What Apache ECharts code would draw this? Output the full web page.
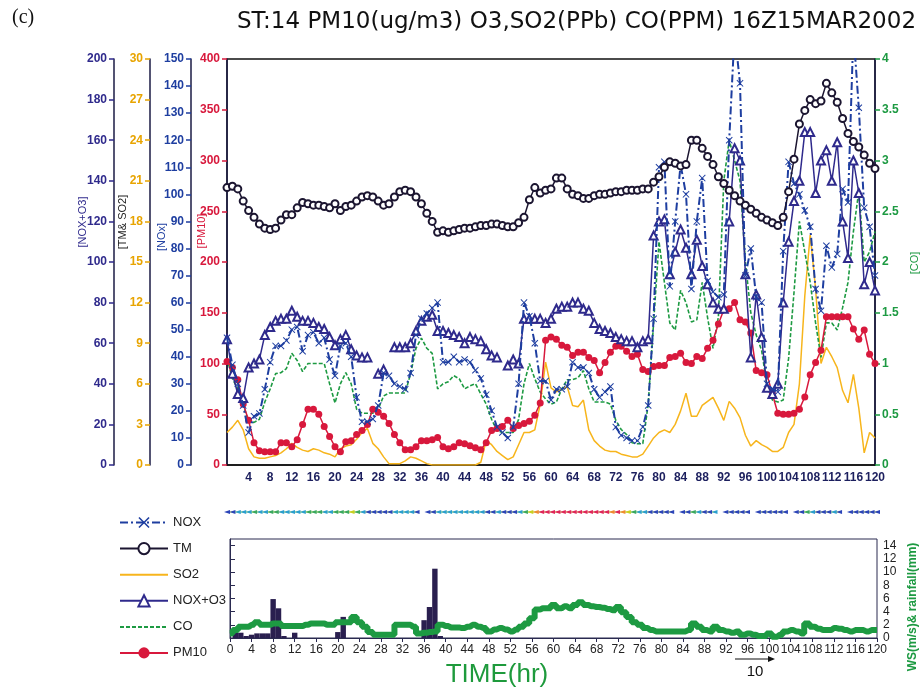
<!DOCTYPE html>
<html>
<head>
<meta charset="utf-8">
<script src="https://cdn.jsdelivr.net/npm/echarts@6/dist/echarts.min.js"></script>
<style>html,body{margin:0;padding:0;background:#fff;}#c{width:923px;height:689px;}</style>
</head>
<body>
<div id="c"></div>
<script>
// ---------------- DATA (hourly, hr 0..120) ----------------
const hours = Array.from({length: 121}, (_, i) => i);
const xTicks = [0,4,8,12,16,20,24,28,32,36,40,44,48,52,56,60,64,68,72,76,80,84,88,92,96,100,104,108,112,116,120];

// TM (deg C, TM&SO2 axis)
const tm = [
 20.5,20.6,20.4,19.5,18.8,18.3,17.8,17.5,17.4,17.5,
 18.1,18.5,18.5,19.0,19.4,19.3,19.2,19.2,19.1,19.0,
 19.3,18.8,19.1,19.2,19.5,19.8,19.9,19.8,19.5,19.2,
 19.3,19.8,20.2,20.3,20.2,19.8,19.3,18.6,18.0,17.2,
 17.3,17.2,17.3,17.4,17.5,17.5,17.6,17.7,17.7,17.8,
 17.8,17.7,17.6,17.6,17.9,18.3,19.6,20.5,20.1,20.3,
 20.4,21.2,21.2,20.4,20.0,19.9,19.7,19.7,19.9,20.0,
 20.0,20.1,20.2,20.2,20.3,20.3,20.3,20.4,20.4,20.9,
 21.3,22.0,22.4,22.3,22.1,22.2,24.0,24.0,23.4,22.8,
 22.2,21.3,20.8,20.3,19.9,19.5,19.2,18.9,18.6,18.3,
 18.1,17.9,17.7,18.3,20.2,22.6,25.2,26.2,27.0,26.7,
 26.9,28.2,27.5,26.8,25.6,24.5,23.9,23.5,22.9,22.3,21.9];

// PM10 (ug/m3)
const pm10 = [
 102,96,84,60,44,22,14,13,13,13,
 22,22,18,25,40,55,55,50,38,28,
 18,13,23,24,30,34,40,55,52,48,
 41,30,22,15,15,18,24,24,25,27,
 18,16,18,22,21,19,17,15,22,34,
 36,38,44,36,39,41,43,49,61,123,
 126,124,118,116,108,111,111,106,103,91,
 101,111,117,117,112,107,109,94,92,97,
 98,98,106,107,110,101,100,107,105,115,
 123,139,153,154,160,143,141,130,93,91,
 89,70,51,50,50,51,55,67,89,101,
 113,146,146,146,146,146,134,124,133,109,100];

// SO2 (ppb, TM&SO2 axis)
const so2 = [
 2.4,2.8,3.3,2.6,1.2,0.6,0.5,0.5,0.6,0.7,
 0.9,1.2,1.6,1.3,1.1,1.0,1.2,1.1,0.9,0.8,
 0.6,1.2,1.4,1.5,1.9,2.4,2.7,1.6,1.2,0.6,
 0.1,0.1,0.1,0.3,0.6,0.5,0.3,0.1,0,0,
 0,0,0,0,0,0,0,0.2,1.8,1.5,
 1.0,0.7,0.4,0.6,1.5,2.4,2.4,2.6,4.5,7.6,
 5.7,5.4,5.6,5.8,4.4,4.3,4.8,2.6,1.8,1.4,
 1.1,1.0,1.0,0.8,0.7,0.6,0.6,0.8,1.4,2.0,
 2.4,2.6,2.4,3.0,4.0,5.3,3.6,3.6,4.4,4.7,
 5.0,4.2,3.3,4.7,4.2,3.5,2.2,1.4,1.8,1.5,
 1.3,1.0,1.0,1.3,2.4,3.0,6.0,12.5,17.0,13.0,
 7.5,8.7,8.0,7.2,5.5,4.6,6.7,4.2,0.9,2.4,2.0];

// CO (ppm, right axis)
const co = [
 1.05,0.85,0.75,0.60,0.42,0.42,0.45,0.62,0.75,0.90,
 0.91,0.95,1.10,1.03,0.92,1.00,1.00,1.00,1.00,0.80,
 0.61,0.80,0.91,0.80,0.55,0.51,0.51,0.51,0.55,0.68,
 0.71,0.71,0.71,0.71,0.90,1.15,1.25,1.15,1.10,0.75,
 0.80,0.82,0.88,0.85,0.75,0.78,0.80,0.70,0.60,0.45,
 0.34,0.32,0.32,0.32,0.45,0.80,1.00,0.85,0.72,0.65,
 0.60,0.62,0.75,0.84,0.84,0.86,0.93,0.75,0.62,0.62,
 0.62,0.60,0.44,0.35,0.30,0.22,0.21,0.21,0.60,1.40,
 2.20,1.80,1.40,1.33,1.72,1.60,1.41,1.43,1.80,1.45,
 1.15,1.46,2.80,3.20,3.00,2.80,2.00,1.50,1.28,1.13,
 0.78,0.64,0.62,0.64,1.05,1.70,2.40,2.10,1.80,1.40,
 1.06,1.40,1.40,1.33,1.55,1.80,2.30,2.70,2.00,2.10,2.30];

// NOX (ppb, NOx axis)
const nox = [
 47,37,30,22,12,18,19,28,38,44,
 44,46,50,51,42,48,49,45,47,39,
 33,44,45,40,25,16,16,17,22,34,
 33,30,29,28,34,48,54,56,58,60,
 38,38,40,38,39,38,35,32,26,20,
 14,12,10,14,30,60,55,45,31,31,
 24,28,28,29,38,36,36,34,28,25,
 27,29,14,11,10,9,9,14,22,54,
 110,112,66,90,111,100,65,90,106,68,
 64,62,63,120,160,141,70,80,62,60,
 30,28,27,79,112,104,100,94,88,65,
 57,81,73,78,102,97,160,132,95,88,70];

// NOX+O3 (ppb, NOX+O3 axis)
const noxo3 = [
 62,45,35,33,48,50,52,64,68,71,
 72,72,76,73,71,71,70,68,67,63,
 59,62,64,57,54,53,53,null,45,47,
 null,58,58,58,60,66,71,73,74,66,
 66,65,64,63,60,63,62,61,57,54,
 53,null,49,52,50,72,72,72,72,70,
 72,77,78,78,80,80,77,76,70,67,
 66,65,63,62,61,61,58,61,62,113,
 120,121,94,105,116,107,94,111,98,89,
 80,77,77,120,156,150,94,53,84,63,
 38,35,40,80,110,130,140,164,164,134,
 150,155,140,159,120,102,150,134,89,100,86];

// Wind speed (m/s) and rainfall (mm), bottom panel
const ws = [
 0.7,1.2,1.7,1.7,2.0,2.4,2.0,2.0,2.2,2.2,
 1.8,1.8,1.8,1.8,2.0,2.2,2.2,2.2,2.0,2.0,
 2.4,2.4,2.4,3.2,2.4,1.7,0.9,0.5,0.5,0.5,
 0.5,2.0,2.0,2.0,1.7,0.7,0.8,0.9,1.0,2.0,
 1.8,1.6,1.6,1.5,1.7,2.0,1.7,1.5,1.0,1.3,
 1.5,1.3,1.0,1.3,1.7,2.2,3.0,4.3,4.5,4.5,
 5.0,4.5,4.8,4.5,5.0,5.4,5.0,4.8,4.7,4.6,
 4.4,4.2,4.7,3.9,3.2,2.4,2.0,1.5,1.2,1.0,
 1.0,1.0,1.0,1.0,1.0,1.2,2.2,1.7,1.2,1.0,
 1.7,1.2,1.0,0.8,1.0,0.5,0.7,0.5,0.3,0.3,
 0.7,0.2,0.5,1.0,1.2,1.0,0.7,2.2,1.7,1.4,
 1.2,1.2,1.5,1.4,1.2,1.0,1.2,1.2,1.0,1.2,1.2];

const rain = [
 0,0.8,0.8,0.3,0.5,0.7,0.7,0.7,5.9,4.5,
 0.3,0,0.8,0,0,0,0,0,0,0,
 0.9,3.2,0,0,0,0,0,0,0,0,
 0,0,0,0,0,0,2.7,4.7,10.5,0.3,
 0,0,0,0,0,0,0,0,0,0,
 0,0,0,0,0,0,0,0,0,0,
 0,0,0,0,0,0,0,0,0,0,
 0,0,0,0,0,0,0,0,0,0,
 0,0,0,0,0,0,0,0,0,0,
 0,0,0,0,0,0,0,0,0,0,
 0,0,0,0,0,0,0,0,0,0,
 0,0,0,0,0,0,0,0,0,0,0];

// hours with no wind barb plotted
const barbGaps = [36, 83, 91, 97, 104, 114];

// ---------------- CHART ----------------
const pairs = arr => arr.map((v, i) => [hours[i], v === null ? '-' : v]);
const F = 'Liberation Sans';
const XMARK = 'path://M1,0L5,4L9,0L10,1L6,5L10,9L9,10L5,6L1,10L0,9L4,5L0,1Z';

const C_NOXO3 = '#2f2a8c', C_TM = '#e8a400', C_NOX = '#1e3ea0', C_PM = '#d8183c', C_CO = '#1d9a42';

function leftAxis(min, max, interval, offset, color) {
  return {
    type: 'value', gridIndex: 0, position: 'left', offset: offset,
    min: min, max: max, interval: interval,
    axisLine: {show: true, lineStyle: {color: '#1b1b44', width: 1.5}},
    axisTick: {show: true, length: 5, lineStyle: {color: color, width: 1.5}},
    axisLabel: {color: color, fontWeight: 'bold', fontSize: 12, fontFamily: F, margin: 7},
    splitLine: {show: false}
  };
}

const chart = echarts.init(document.getElementById('c'), null, {renderer: 'canvas'});
const option = {
  backgroundColor: '#fff',
  animation: false,
  title: {
    text: 'ST:14 PM10(ug/m3) O3,SO2(PPb) CO(PPM) 16Z15MAR2002',
    left: 232, top: 6,
    textStyle: {fontSize: 23, fontWeight: 'normal', fontFamily: 'DejaVu Sans', color: '#111'}
  },
  legend: {
    orient: 'vertical', left: 114, top: 511,
    itemWidth: 48, itemHeight: 14, itemGap: 13,
    data: [
      {name: 'NOX'},
      {name: 'TM'},
      {name: 'SO2', itemStyle: {opacity: 0}},
      {name: 'NOX+O3'},
      {name: 'CO', itemStyle: {opacity: 0}},
      {name: 'PM10'}
    ],
    textStyle: {fontSize: 13, fontFamily: F, color: '#222'}
  },
  grid: [
    {left: 227, right: 48, top: 59, height: 406, show: true, borderColor: '#111', borderWidth: 1.5},
    {left: 230, right: 46, top: 539, height: 99, show: true, borderColor: '#2a2a50', borderWidth: 1},
    {left: 227, right: 46, top: 504, height: 16}
  ],
  xAxis: [
    {type: 'value', gridIndex: 0, min: 0, max: 120, interval: 4,
     axisLine: {show: true, lineStyle: {color: '#111', width: 1.5}},
     axisTick: {show: false},
     axisLabel: {color: '#1c1f5e', fontWeight: 'bold', fontSize: 12, fontFamily: F, margin: 7,
                 formatter: v => (v === 0 ? '' : xTicks.includes(v) ? String(v) : '')},
     splitLine: {show: false}},
    {type: 'value', gridIndex: 1, min: 0, max: 120, interval: 4,
     axisLine: {show: true, lineStyle: {color: '#2a2a50'}},
     axisTick: {show: true, length: 4, lineStyle: {color: '#2a2a50'}},
     axisLabel: {color: '#222', fontSize: 12, fontFamily: F, margin: 6},
     splitLine: {show: false}},
    {type: 'value', gridIndex: 2, min: 0, max: 120, show: false}
  ],
  yAxis: [
    leftAxis(0, 400, 50, 0, C_PM),          // 0 PM10
    leftAxis(0, 150, 10, 36, C_NOX),        // 1 NOx
    leftAxis(0, 30, 3, 77, C_TM),           // 2 TM & SO2
    leftAxis(0, 200, 20, 113, C_NOXO3),     // 3 NOX+O3
    {type: 'value', gridIndex: 0, position: 'right', min: 0, max: 4, interval: 0.5,
     axisLine: {show: true, lineStyle: {color: '#1b1b44', width: 1.5}},
     axisTick: {show: true, length: 5, lineStyle: {color: C_CO, width: 1.5}},
     axisLabel: {color: C_CO, fontWeight: 'bold', fontSize: 12, fontFamily: F, margin: 7},
     splitLine: {show: false}},          // 4 CO
    {type: 'value', gridIndex: 1, position: 'right', min: 0, max: 15, interval: 2,
     axisLine: {show: true, lineStyle: {color: '#2a2a50'}},
     axisTick: {show: true, length: 5, lineStyle: {color: '#2a2a50'}},
     axisLabel: {color: '#222', fontSize: 12, fontFamily: F, margin: 6, showMaxLabel: false},
     splitLine: {show: false}},          // 5 WS / rain
    {type: 'value', gridIndex: 2, min: 0, max: 1, show: false}  // 6 barbs row
  ],
  visualMap: {
    show: false, type: 'piecewise', seriesIndex: 8, dimension: 2,
    pieces: [
      {lt: 1.5, color: '#2b44b8'},
      {gte: 1.5, lt: 2.1, color: '#2a9fcf'},
      {gte: 2.1, lt: 2.8, color: '#3aa860'},
      {gte: 2.8, lt: 3.6, color: '#c8d020'},
      {gte: 3.6, lt: 4.4, color: '#f08a30'},
      {gte: 4.4, color: '#e0245a'}
    ]
  },
  series: [
    {name: 'PM10', type: 'line', xAxisIndex: 0, yAxisIndex: 0, data: pairs(pm10),
     symbol: 'circle', symbolSize: 7, lineStyle: {color: C_PM, width: 1.5},
     itemStyle: {color: C_PM}, z: 3},
    {name: 'SO2', type: 'line', xAxisIndex: 0, yAxisIndex: 2, data: pairs(so2),
     symbol: 'none', lineStyle: {color: '#f7b51c', width: 1.5},
     itemStyle: {color: '#f7b51c'}, z: 2},
    {name: 'CO', type: 'line', xAxisIndex: 0, yAxisIndex: 4, data: pairs(co),
     symbol: 'none', lineStyle: {color: C_CO, width: 1.6, type: [4, 2]},
     itemStyle: {color: C_CO}, z: 2},
    {name: 'NOX+O3', type: 'line', xAxisIndex: 0, yAxisIndex: 3, data: pairs(noxo3),
     symbol: 'emptyTriangle', symbolSize: 8, connectNulls: false,
     lineStyle: {color: C_NOXO3, width: 1.5},
     itemStyle: {color: C_NOXO3, borderWidth: 1.6}, z: 4},
    {name: 'NOX', type: 'line', xAxisIndex: 0, yAxisIndex: 1, data: pairs(nox),
     symbol: XMARK, symbolSize: 7,
     lineStyle: {color: C_NOX, width: 2, type: [8, 3, 2, 3]},
     itemStyle: {color: C_NOX}, z: 5},
    {name: 'TM', type: 'line', xAxisIndex: 0, yAxisIndex: 2, data: pairs(tm),
     symbol: 'emptyCircle', symbolSize: 7,
     lineStyle: {color: '#1b1530', width: 1.5},
     itemStyle: {color: '#1b1530', borderWidth: 2}, z: 6},
    {name: 'rain', type: 'bar', xAxisIndex: 1, yAxisIndex: 5, data: pairs(rain),
     barWidth: 5.4, itemStyle: {color: '#2a1f4f'}, z: 2},
    {name: 'WS', type: 'line', xAxisIndex: 1, yAxisIndex: 5, data: pairs(ws),
     step: 'middle', symbol: 'none', lineStyle: {color: '#1d9a42', width: 6}, z: 3},
    {name: 'barbs', type: 'line', xAxisIndex: 2, yAxisIndex: 6,
     data: ws.map((v, i) => [hours[i], barbGaps.includes(hours[i]) ? '-' : 0.5, v]),
     symbol: 'triangle', symbolSize: [4, 6], symbolRotate: 90, showAllSymbol: true,
     lineStyle: {width: 1.2}, z: 2}
  ],
  graphic: [
    {type: 'text', left: 12, top: 8, style: {text: '(c)', font: '20px "Liberation Serif"', fill: '#111'}},
    {type: 'text', x: 83, y: 222, rotation: Math.PI / 2,
     style: {text: '[NOX+O3]', font: '11px "Liberation Sans"', fill: C_NOXO3, align: 'center', verticalAlign: 'middle'}},
    {type: 'text', x: 123, y: 222, rotation: Math.PI / 2,
     style: {text: '[TM& SO2]', font: '11px "Liberation Sans"', fill: '#222', align: 'center', verticalAlign: 'middle'}},
    {type: 'text', x: 162, y: 237, rotation: Math.PI / 2,
     style: {text: '[NOx]', font: '11px "Liberation Sans"', fill: C_NOX, align: 'center', verticalAlign: 'middle'}},
    {type: 'text', x: 202, y: 231, rotation: Math.PI / 2,
     style: {text: '[PM10]', font: '11px "Liberation Sans"', fill: C_PM, align: 'center', verticalAlign: 'middle'}},
    {type: 'text', x: 915, y: 263, rotation: Math.PI / 2,
     style: {text: '[CO]', font: '11px "Liberation Sans"', fill: C_CO, align: 'center', verticalAlign: 'middle'}},
    {type: 'text', x: 913, y: 607, rotation: Math.PI / 2,
     style: {text: 'WS(m/s)& rainfall(mm)', font: 'bold 12px "Liberation Sans"', fill: C_CO, align: 'center', verticalAlign: 'middle'}},
    {type: 'text', x: 497, y: 675,
     style: {text: 'TIME(hr)', font: '26px "Liberation Sans"', fill: '#1e9a3c', align: 'center', verticalAlign: 'middle'}},
    {type: 'line', shape: {x1: 735, y1: 659, x2: 771, y2: 659}, style: {stroke: '#111', lineWidth: 1.2}},
    {type: 'polygon', shape: {points: [[775, 659], [768, 656], [768, 662]]}, style: {fill: '#111'}},
    {type: 'text', x: 755, y: 672,
     style: {text: '10', font: '15px "Liberation Sans"', fill: '#111', align: 'center', verticalAlign: 'middle'}}
  ]
};
chart.setOption(option);
</script>
</body>
</html>
